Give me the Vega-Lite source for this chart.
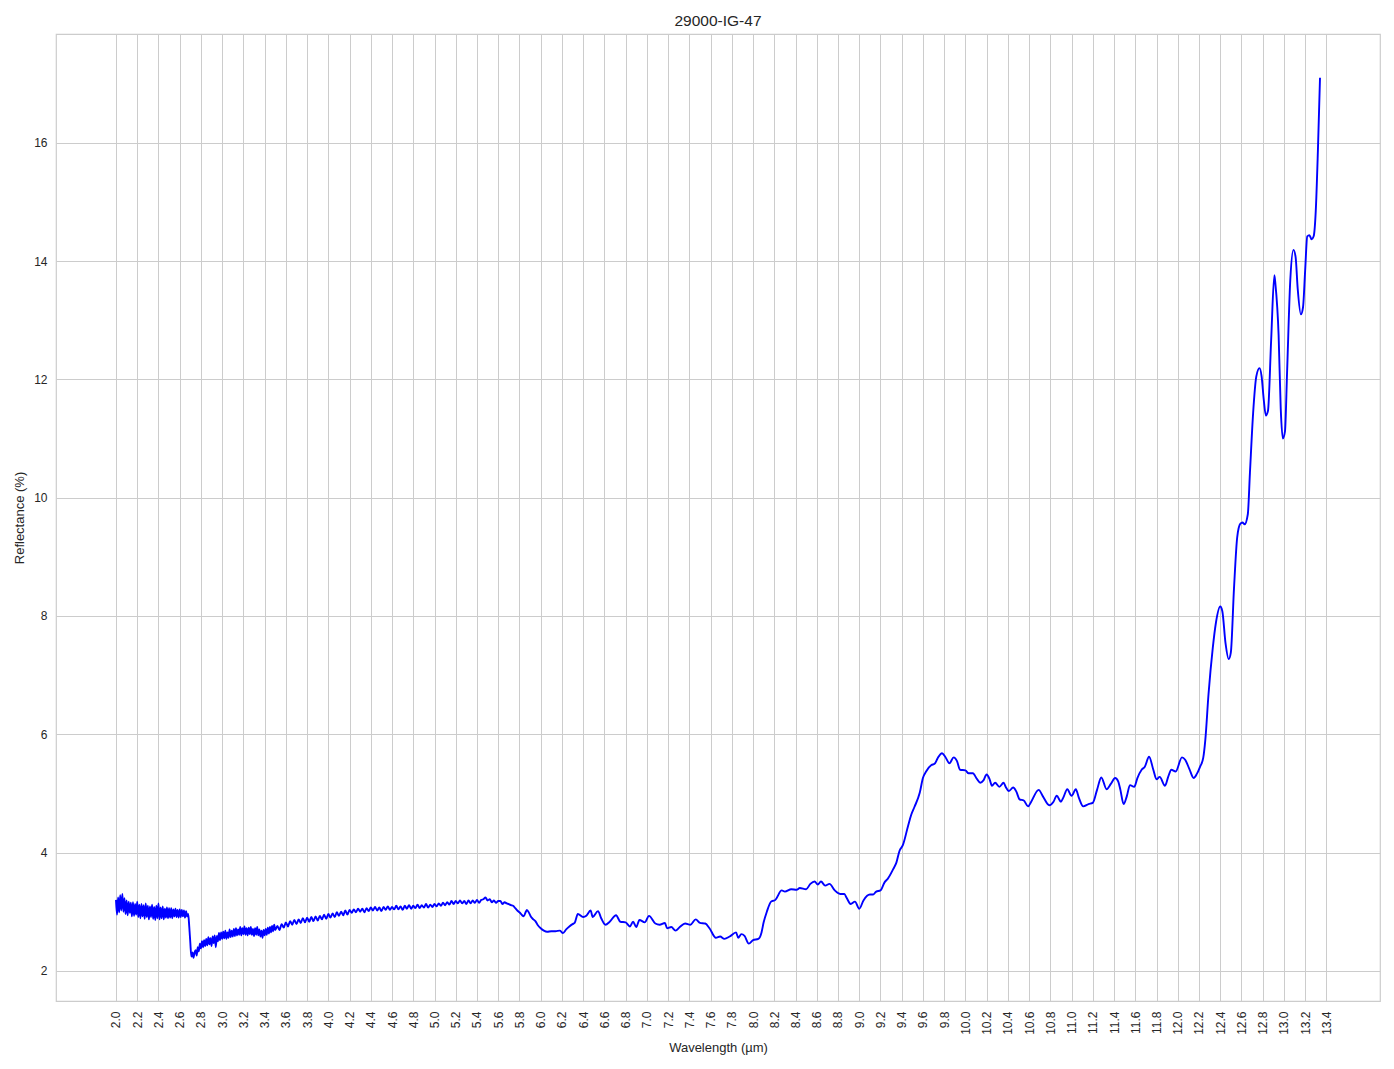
{
  "$schema": "https://vega.github.io/schema/vega-lite/v6.json",
  "width": 1324,
  "height": 967,
  "autosize": {"type": "none"},
  "padding": {"left": 56, "top": 34, "right": 14, "bottom": 68},
  "background": "white",
  "title": {"text": "29000-IG-47", "fontSize": 15.5, "font": "Liberation Sans", "fontWeight": "normal", "color": "#262626", "offset": 5},
  "data": {"values": [
    {"w":2.00,"r":3.20},{"w":2.01,"r":2.95},{"w":2.02,"r":3.24},{"w":2.03,"r":2.99},{"w":2.04,"r":3.28},{"w":2.05,"r":3.02},{"w":2.06,"r":3.30},{"w":2.07,"r":3.00},{"w":2.08,"r":3.23},{"w":2.09,"r":2.96},
    {"w":2.10,"r":3.19},{"w":2.11,"r":2.94},{"w":2.12,"r":3.17},{"w":2.13,"r":2.98},{"w":2.14,"r":3.15},{"w":2.15,"r":2.92},{"w":2.16,"r":3.16},{"w":2.17,"r":2.93},{"w":2.18,"r":3.13},{"w":2.19,"r":2.95},
    {"w":2.20,"r":3.17},{"w":2.21,"r":2.91},{"w":2.22,"r":3.12},{"w":2.23,"r":2.89},{"w":2.24,"r":3.13},{"w":2.25,"r":2.92},{"w":2.26,"r":3.11},{"w":2.27,"r":2.88},{"w":2.28,"r":3.14},{"w":2.29,"r":2.91},
    {"w":2.30,"r":3.10},{"w":2.31,"r":2.87},{"w":2.32,"r":3.09},{"w":2.33,"r":2.91},{"w":2.34,"r":3.12},{"w":2.35,"r":2.88},{"w":2.36,"r":3.08},{"w":2.37,"r":2.86},{"w":2.38,"r":3.10},{"w":2.39,"r":2.89},
    {"w":2.40,"r":3.14},{"w":2.41,"r":2.87},{"w":2.42,"r":3.07},{"w":2.43,"r":2.89},{"w":2.44,"r":3.09},{"w":2.45,"r":2.87},{"w":2.46,"r":3.05},{"w":2.47,"r":2.90},{"w":2.48,"r":3.07},{"w":2.49,"r":2.89},
    {"w":2.50,"r":3.06},{"w":2.51,"r":2.90},{"w":2.52,"r":3.06},{"w":2.53,"r":2.89},{"w":2.54,"r":3.04},{"w":2.55,"r":2.92},{"w":2.56,"r":3.05},{"w":2.57,"r":2.91},{"w":2.58,"r":3.03},{"w":2.59,"r":2.90},
    {"w":2.60,"r":3.04},{"w":2.61,"r":2.91},{"w":2.62,"r":3.03},{"w":2.63,"r":2.92},{"w":2.64,"r":3.02},{"w":2.65,"r":2.90},{"w":2.66,"r":3.01},{"w":2.67,"r":2.92},{"w":2.68,"r":2.96},{"w":2.69,"r":2.75},
    {"w":2.70,"r":2.48},{"w":2.71,"r":2.24},{"w":2.72,"r":2.31},{"w":2.73,"r":2.22},{"w":2.74,"r":2.31},{"w":2.75,"r":2.35},{"w":2.76,"r":2.26},{"w":2.77,"r":2.40},{"w":2.78,"r":2.33},{"w":2.79,"r":2.46},
    {"w":2.80,"r":2.38},{"w":2.81,"r":2.50},{"w":2.82,"r":2.40},{"w":2.83,"r":2.52},{"w":2.84,"r":2.42},{"w":2.85,"r":2.54},{"w":2.86,"r":2.43},{"w":2.87,"r":2.57},{"w":2.88,"r":2.45},{"w":2.89,"r":2.55},
    {"w":2.90,"r":2.42},{"w":2.91,"r":2.58},{"w":2.92,"r":2.47},{"w":2.93,"r":2.60},{"w":2.94,"r":2.40},{"w":2.95,"r":2.59},{"w":2.96,"r":2.50},{"w":2.97,"r":2.64},{"w":2.98,"r":2.52},{"w":2.99,"r":2.65},
    {"w":3.00,"r":2.54},{"w":3.01,"r":2.66},{"w":3.02,"r":2.55},{"w":3.03,"r":2.68},{"w":3.04,"r":2.54},{"w":3.05,"r":2.65},{"w":3.06,"r":2.56},{"w":3.07,"r":2.70},{"w":3.08,"r":2.57},{"w":3.09,"r":2.68},
    {"w":3.10,"r":2.58},{"w":3.11,"r":2.71},{"w":3.12,"r":2.59},{"w":3.13,"r":2.72},{"w":3.14,"r":2.60},{"w":3.15,"r":2.70},{"w":3.16,"r":2.61},{"w":3.17,"r":2.74},{"w":3.18,"r":2.60},{"w":3.19,"r":2.72},
    {"w":3.20,"r":2.62},{"w":3.21,"r":2.75},{"w":3.22,"r":2.61},{"w":3.23,"r":2.72},{"w":3.24,"r":2.60},{"w":3.25,"r":2.73},{"w":3.26,"r":2.62},{"w":3.27,"r":2.74},{"w":3.28,"r":2.61},{"w":3.29,"r":2.71},
    {"w":3.30,"r":2.59},{"w":3.31,"r":2.72},{"w":3.32,"r":2.61},{"w":3.33,"r":2.74},{"w":3.34,"r":2.60},{"w":3.35,"r":2.70},{"w":3.36,"r":2.58},{"w":3.37,"r":2.68},{"w":3.38,"r":2.56},{"w":3.39,"r":2.69},
    {"w":3.40,"r":2.60},{"w":3.41,"r":2.71},{"w":3.42,"r":2.61},{"w":3.43,"r":2.73},{"w":3.44,"r":2.63},{"w":3.45,"r":2.74},{"w":3.46,"r":2.65},{"w":3.47,"r":2.76},{"w":3.48,"r":2.67},{"w":3.49,"r":2.78},
    {"w":3.50,"r":2.69},{"w":3.52,"r":2.76},{"w":3.54,"r":2.69},{"w":3.56,"r":2.79},{"w":3.58,"r":2.73},{"w":3.60,"r":2.82},{"w":3.62,"r":2.75},{"w":3.64,"r":2.84},{"w":3.66,"r":2.78},{"w":3.68,"r":2.86},
    {"w":3.70,"r":2.79},{"w":3.72,"r":2.87},{"w":3.74,"r":2.81},{"w":3.76,"r":2.89},{"w":3.78,"r":2.82},{"w":3.80,"r":2.90},{"w":3.82,"r":2.83},{"w":3.84,"r":2.91},{"w":3.86,"r":2.84},{"w":3.88,"r":2.92},
    {"w":3.90,"r":2.85},{"w":3.92,"r":2.93},{"w":3.94,"r":2.87},{"w":3.96,"r":2.95},{"w":3.98,"r":2.88},{"w":4.00,"r":2.96},{"w":4.02,"r":2.90},{"w":4.04,"r":2.97},{"w":4.06,"r":2.91},{"w":4.08,"r":2.99},
    {"w":4.10,"r":2.93},{"w":4.12,"r":3.00},{"w":4.14,"r":2.94},{"w":4.16,"r":3.02},{"w":4.18,"r":2.95},{"w":4.20,"r":3.03},{"w":4.22,"r":2.98},{"w":4.24,"r":3.04},{"w":4.26,"r":2.99},{"w":4.28,"r":3.05},
    {"w":4.30,"r":3.00},{"w":4.32,"r":3.05},{"w":4.34,"r":2.99},{"w":4.36,"r":3.06},{"w":4.38,"r":3.01},{"w":4.40,"r":3.07},{"w":4.42,"r":3.02},{"w":4.44,"r":3.08},{"w":4.46,"r":3.02},{"w":4.48,"r":3.07},
    {"w":4.50,"r":3.01},{"w":4.52,"r":3.08},{"w":4.54,"r":3.03},{"w":4.56,"r":3.09},{"w":4.58,"r":3.03},{"w":4.60,"r":3.08},{"w":4.62,"r":3.04},{"w":4.64,"r":3.10},{"w":4.66,"r":3.04},{"w":4.68,"r":3.09},
    {"w":4.70,"r":3.03},{"w":4.72,"r":3.10},{"w":4.74,"r":3.05},{"w":4.76,"r":3.11},{"w":4.78,"r":3.05},{"w":4.80,"r":3.10},{"w":4.82,"r":3.06},{"w":4.84,"r":3.12},{"w":4.86,"r":3.06},{"w":4.88,"r":3.11},
    {"w":4.90,"r":3.07},{"w":4.92,"r":3.13},{"w":4.94,"r":3.07},{"w":4.96,"r":3.12},{"w":4.98,"r":3.08},{"w":5.00,"r":3.13},{"w":5.02,"r":3.09},{"w":5.04,"r":3.14},{"w":5.06,"r":3.10},{"w":5.08,"r":3.15},
    {"w":5.10,"r":3.11},{"w":5.12,"r":3.16},{"w":5.14,"r":3.12},{"w":5.16,"r":3.18},{"w":5.18,"r":3.13},{"w":5.20,"r":3.18},{"w":5.22,"r":3.14},{"w":5.24,"r":3.19},{"w":5.26,"r":3.14},{"w":5.28,"r":3.18},
    {"w":5.30,"r":3.13},{"w":5.32,"r":3.19},{"w":5.34,"r":3.14},{"w":5.36,"r":3.19},{"w":5.38,"r":3.15},{"w":5.40,"r":3.20},{"w":5.42,"r":3.15},{"w":5.44,"r":3.20},{"w":5.46,"r":3.21},{"w":5.48,"r":3.24},
    {"w":5.50,"r":3.19},{"w":5.52,"r":3.21},{"w":5.54,"r":3.16},{"w":5.56,"r":3.19},{"w":5.58,"r":3.15},{"w":5.60,"r":3.18},{"w":5.62,"r":3.18},{"w":5.64,"r":3.13},{"w":5.66,"r":3.16},{"w":5.68,"r":3.14},
    {"w":5.70,"r":3.13},{"w":5.72,"r":3.11},{"w":5.74,"r":3.10},{"w":5.76,"r":3.06},{"w":5.78,"r":3.02},{"w":5.80,"r":2.99},{"w":5.82,"r":2.95},{"w":5.84,"r":2.92},{"w":5.86,"r":3.00},{"w":5.87,"r":3.03},
    {"w":5.89,"r":2.98},{"w":5.91,"r":2.91},{"w":5.93,"r":2.87},{"w":5.95,"r":2.84},{"w":5.97,"r":2.78},{"w":6.00,"r":2.72},{"w":6.03,"r":2.68},{"w":6.06,"r":2.66},{"w":6.10,"r":2.67},{"w":6.14,"r":2.67},
    {"w":6.18,"r":2.68},{"w":6.21,"r":2.64},{"w":6.24,"r":2.70},{"w":6.27,"r":2.75},{"w":6.30,"r":2.79},{"w":6.32,"r":2.81},{"w":6.35,"r":2.96},{"w":6.40,"r":2.91},{"w":6.43,"r":2.93},{"w":6.47,"r":3.02},
    {"w":6.49,"r":2.91},{"w":6.54,"r":3.01},{"w":6.57,"r":2.89},{"w":6.61,"r":2.78},{"w":6.65,"r":2.83},{"w":6.71,"r":2.94},{"w":6.75,"r":2.83},{"w":6.80,"r":2.82},{"w":6.84,"r":2.75},{"w":6.87,"r":2.83},
    {"w":6.90,"r":2.74},{"w":6.93,"r":2.86},{"w":6.98,"r":2.82},{"w":7.02,"r":2.93},{"w":7.08,"r":2.80},{"w":7.12,"r":2.78},{"w":7.17,"r":2.81},{"w":7.19,"r":2.72},{"w":7.23,"r":2.74},{"w":7.27,"r":2.68},
    {"w":7.31,"r":2.74},{"w":7.36,"r":2.80},{"w":7.41,"r":2.78},{"w":7.46,"r":2.87},{"w":7.50,"r":2.81},{"w":7.55,"r":2.80},{"w":7.59,"r":2.72},{"w":7.65,"r":2.56},{"w":7.69,"r":2.58},{"w":7.73,"r":2.54},
    {"w":7.78,"r":2.58},{"w":7.84,"r":2.65},{"w":7.86,"r":2.56},{"w":7.89,"r":2.62},{"w":7.92,"r":2.59},{"w":7.96,"r":2.46},{"w":8.00,"r":2.52},{"w":8.05,"r":2.54},{"w":8.08,"r":2.65},{"w":8.10,"r":2.82},
    {"w":8.13,"r":3.00},{"w":8.17,"r":3.17},{"w":8.21,"r":3.20},{"w":8.27,"r":3.36},{"w":8.30,"r":3.34},{"w":8.36,"r":3.38},{"w":8.41,"r":3.37},{"w":8.44,"r":3.40},{"w":8.50,"r":3.38},{"w":8.54,"r":3.47},
    {"w":8.58,"r":3.51},{"w":8.61,"r":3.46},{"w":8.64,"r":3.51},{"w":8.68,"r":3.44},{"w":8.72,"r":3.47},{"w":8.77,"r":3.36},{"w":8.82,"r":3.30},{"w":8.86,"r":3.30},{"w":8.88,"r":3.24},{"w":8.92,"r":3.13},
    {"w":8.96,"r":3.17},{"w":9.00,"r":3.05},{"w":9.04,"r":3.19},{"w":9.10,"r":3.29},{"w":9.13,"r":3.29},{"w":9.16,"r":3.34},{"w":9.20,"r":3.36},{"w":9.24,"r":3.50},{"w":9.27,"r":3.56},{"w":9.32,"r":3.72},
    {"w":9.35,"r":3.83},{"w":9.38,"r":4.03},{"w":9.41,"r":4.12},{"w":9.46,"r":4.45},{"w":9.49,"r":4.64},{"w":9.52,"r":4.77},{"w":9.57,"r":5.01},{"w":9.60,"r":5.26},{"w":9.63,"r":5.37},{"w":9.68,"r":5.48},
    {"w":9.71,"r":5.50},{"w":9.74,"r":5.60},{"w":9.78,"r":5.68},{"w":9.81,"r":5.62},{"w":9.85,"r":5.51},{"w":9.89,"r":5.61},{"w":9.92,"r":5.55},{"w":9.95,"r":5.40},{"w":10.00,"r":5.39},{"w":10.03,"r":5.34},
    {"w":10.07,"r":5.34},{"w":10.11,"r":5.24},{"w":10.14,"r":5.18},{"w":10.17,"r":5.22},{"w":10.20,"r":5.32},{"w":10.23,"r":5.23},{"w":10.25,"r":5.13},{"w":10.28,"r":5.18},{"w":10.32,"r":5.11},{"w":10.36,"r":5.18},
    {"w":10.38,"r":5.11},{"w":10.41,"r":5.04},{"w":10.45,"r":5.10},{"w":10.48,"r":5.03},{"w":10.51,"r":4.90},{"w":10.55,"r":4.88},{"w":10.59,"r":4.78},{"w":10.62,"r":4.86},{"w":10.69,"r":5.06},{"w":10.73,"r":4.95},
    {"w":10.79,"r":4.80},{"w":10.83,"r":4.86},{"w":10.86,"r":4.96},{"w":10.90,"r":4.86},{"w":10.92,"r":4.92},{"w":10.96,"r":5.07},{"w":11.00,"r":4.96},{"w":11.04,"r":5.07},{"w":11.07,"r":4.92},{"w":11.11,"r":4.78},
    {"w":11.16,"r":4.82},{"w":11.20,"r":4.84},{"w":11.24,"r":5.06},{"w":11.28,"r":5.27},{"w":11.33,"r":5.07},{"w":11.37,"r":5.16},{"w":11.41,"r":5.26},{"w":11.44,"r":5.20},{"w":11.46,"r":5.06},{"w":11.49,"r":4.82},
    {"w":11.52,"r":4.95},{"w":11.55,"r":5.14},{"w":11.59,"r":5.11},{"w":11.62,"r":5.26},{"w":11.66,"r":5.40},{"w":11.69,"r":5.45},{"w":11.73,"r":5.62},{"w":11.77,"r":5.40},{"w":11.80,"r":5.24},{"w":11.83,"r":5.28},
    {"w":11.88,"r":5.13},{"w":11.91,"r":5.28},{"w":11.94,"r":5.40},{"w":11.98,"r":5.37},{"w":12.04,"r":5.61},{"w":12.07,"r":5.57},{"w":12.11,"r":5.41},{"w":12.15,"r":5.26},{"w":12.18,"r":5.33},{"w":12.21,"r":5.45},
    {"w":12.24,"r":5.60},{"w":12.26,"r":5.91},{"w":12.29,"r":6.68},{"w":12.33,"r":7.46},{"w":12.36,"r":7.89},{"w":12.40,"r":8.16},{"w":12.42,"r":8.08},{"w":12.45,"r":7.54},{"w":12.48,"r":7.27},{"w":12.50,"r":7.38},
    {"w":12.53,"r":8.47},{"w":12.56,"r":9.33},{"w":12.59,"r":9.56},{"w":12.61,"r":9.58},{"w":12.63,"r":9.55},{"w":12.66,"r":9.72},{"w":12.68,"r":10.42},{"w":12.71,"r":11.43},{"w":12.74,"r":12.05},{"w":12.77,"r":12.19},
    {"w":12.79,"r":12.05},{"w":12.81,"r":11.66},{"w":12.83,"r":11.39},{"w":12.85,"r":11.47},{"w":12.88,"r":12.67},{"w":12.91,"r":13.76},{"w":12.92,"r":13.61},{"w":12.95,"r":12.75},{"w":12.97,"r":11.51},{"w":12.99,"r":11.00},
    {"w":13.01,"r":11.12},{"w":13.03,"r":12.13},{"w":13.06,"r":13.68},{"w":13.09,"r":14.19},{"w":13.11,"r":14.07},{"w":13.13,"r":13.53},{"w":13.16,"r":13.10},{"w":13.18,"r":13.22},{"w":13.20,"r":13.84},{"w":13.22,"r":14.42},
    {"w":13.24,"r":14.44},{"w":13.26,"r":14.37},{"w":13.28,"r":14.42},{"w":13.30,"r":14.85},{"w":13.32,"r":15.86},{"w":13.34,"r":17.10}
  ]},
  "mark": {"type": "line", "color": "#0000ff", "strokeWidth": 1.9, "interpolate": "monotone"},
  "encoding": {
    "x": {
      "field": "w", "type": "quantitative",
      "scale": {"domain": [1.435, 13.905], "nice": false, "zero": false},
      "axis": {
        "title": "Wavelength (µm)",
        "values": [2.0,2.2,2.4,2.6,2.8,3.0,3.2,3.4,3.6,3.8,4.0,4.2,4.4,4.6,4.8,5.0,5.2,5.4,5.6,5.8,6.0,6.2,6.4,6.6,6.8,7.0,7.2,7.4,7.6,7.8,8.0,8.2,8.4,8.6,8.8,9.0,9.2,9.4,9.6,9.8,10.0,10.2,10.4,10.6,10.8,11.0,11.2,11.4,11.6,11.8,12.0,12.2,12.4,12.6,12.8,13.0,13.2,13.4],
        "format": ".1f",
        "labelAngle": -90,
        "labelOverlap": false,
        "labelFlush": false,
        "labelPadding": 10,
        "titlePadding": 7
      }
    },
    "y": {
      "field": "r", "type": "quantitative",
      "scale": {"domain": [1.49, 17.84], "nice": false, "zero": false},
      "axis": {
        "title": "Reflectance (%)",
        "values": [2,4,6,8,10,12,14,16],
        "labelOverlap": false,
        "labelFlush": false,
        "labelPadding": 9,
        "titlePadding": 7
      }
    }
  },
  "config": {
    "view": {"stroke": "#cccccc", "strokeWidth": 1.2},
    "axis": {
      "domain": false,
      "ticks": false,
      "grid": true,
      "gridColor": "#cccccc",
      "gridWidth": 1,
      "labelFont": "Liberation Sans",
      "labelFontSize": 12,
      "labelColor": "#262626",
      "titleFont": "Liberation Sans",
      "titleFontSize": 13,
      "titleFontWeight": "normal",
      "titleColor": "#262626"
    }
  }
}
